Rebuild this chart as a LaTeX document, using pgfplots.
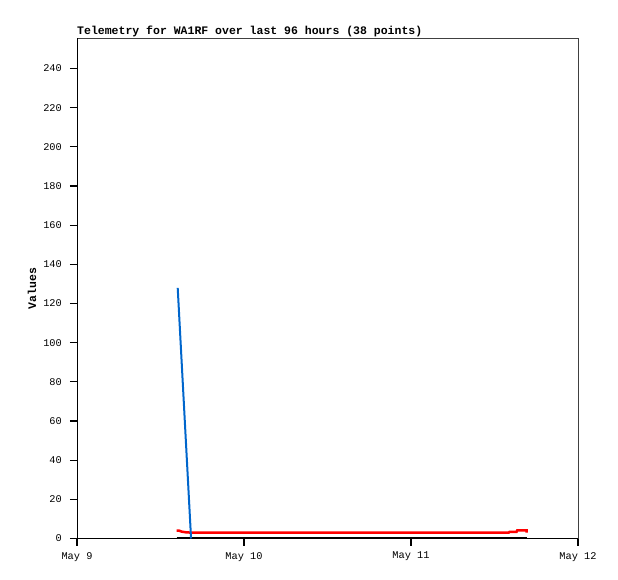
\documentclass[border=0pt]{standalone}
\usepackage{fontspec}
\setmainfont{Liberation Mono}
\usepackage{pgfplots}
\pgfplotsset{compat=1.18}
\definecolor{tblue}{RGB}{0,102,204}
\definecolor{framegray}{RGB}{64,64,64}
\begin{document}
\begin{tikzpicture}[x=1pt,y=1pt]
\useasboundingbox (0,0) rectangle (618,579);
\begin{axis}[
  at={(77pt,40.5pt)}, anchor=south west,
  scale only axis, width=501pt, height=500pt,
  xmin=0, xmax=3, ymin=0, ymax=255.3,
  xtick={0,1,2,3}, xticklabels={May 9,May 10,May 11,May 12},
  ytick={0,20,...,240},
  tick align=outside, major tick length=7pt,
  xtick pos=bottom, ytick pos=left,
  tick style={black, line width=1.2pt},
  axis line style={draw=none},
  /pgf/number format/assume math mode=true,
  ticklabel style={font=\fontsize{10.3}{11}\selectfont},
  yticklabel style={anchor=east, inner sep=0pt, inner xsep=8pt},
  xticklabel style={anchor=north, inner sep=0pt, inner ysep=6.5pt},
  title={Telemetry for WA1RF over last 96 hours (38 points)},
  title style={at={(0,1)}, anchor=base west, yshift=-2.5pt, inner sep=0pt, font=\fontsize{11.5}{12}\selectfont\bfseries},
  ylabel={Values},
  ylabel style={at={(axis description cs:-0.0898,0.5)}, anchor=center, rotate=0, inner sep=0pt, font=\fontsize{11.5}{12}\selectfont\bfseries},
  clip=false,
]
\draw[framegray, line width=0.9pt] (rel axis cs:0,1) -- (rel axis cs:1,1) -- (rel axis cs:1,0);
\draw[black, line width=0.9pt] (rel axis cs:0,1) -- (rel axis cs:0,0) -- (rel axis cs:1,0);
\pgfplotsinvokeforeach{0,20,40,60,80,100,120,140,160,180,200,220,240}{
  \draw[black, line width=1.2pt] (axis cs:0,#1) -- ++(-7pt,0pt);
}
\pgfplotsinvokeforeach{0,1,2,3}{
  \draw[black, line width=1.2pt] (axis cs:#1,0) -- ++(0pt,-7pt);
}
\addplot[black, line width=2pt] coordinates {(0.597,0.5) (2.693,0.5)};
\addplot[red, line width=2.5pt] coordinates {
  (0.597,4.0) (0.612,4.0) (0.627,3.5) (0.657,3.1) (0.70,3.0) (1.0,3.0) (1.5,3.0) (2.0,3.0) (2.585,3.0)
  (2.59,3.4) (2.632,3.4) (2.636,4.1) (2.693,4.1) (2.693,3.0)};
\addplot[tblue, line width=2pt] coordinates {(0.603,128) (0.683,0)};
\end{axis}
\end{tikzpicture}
\end{document}
